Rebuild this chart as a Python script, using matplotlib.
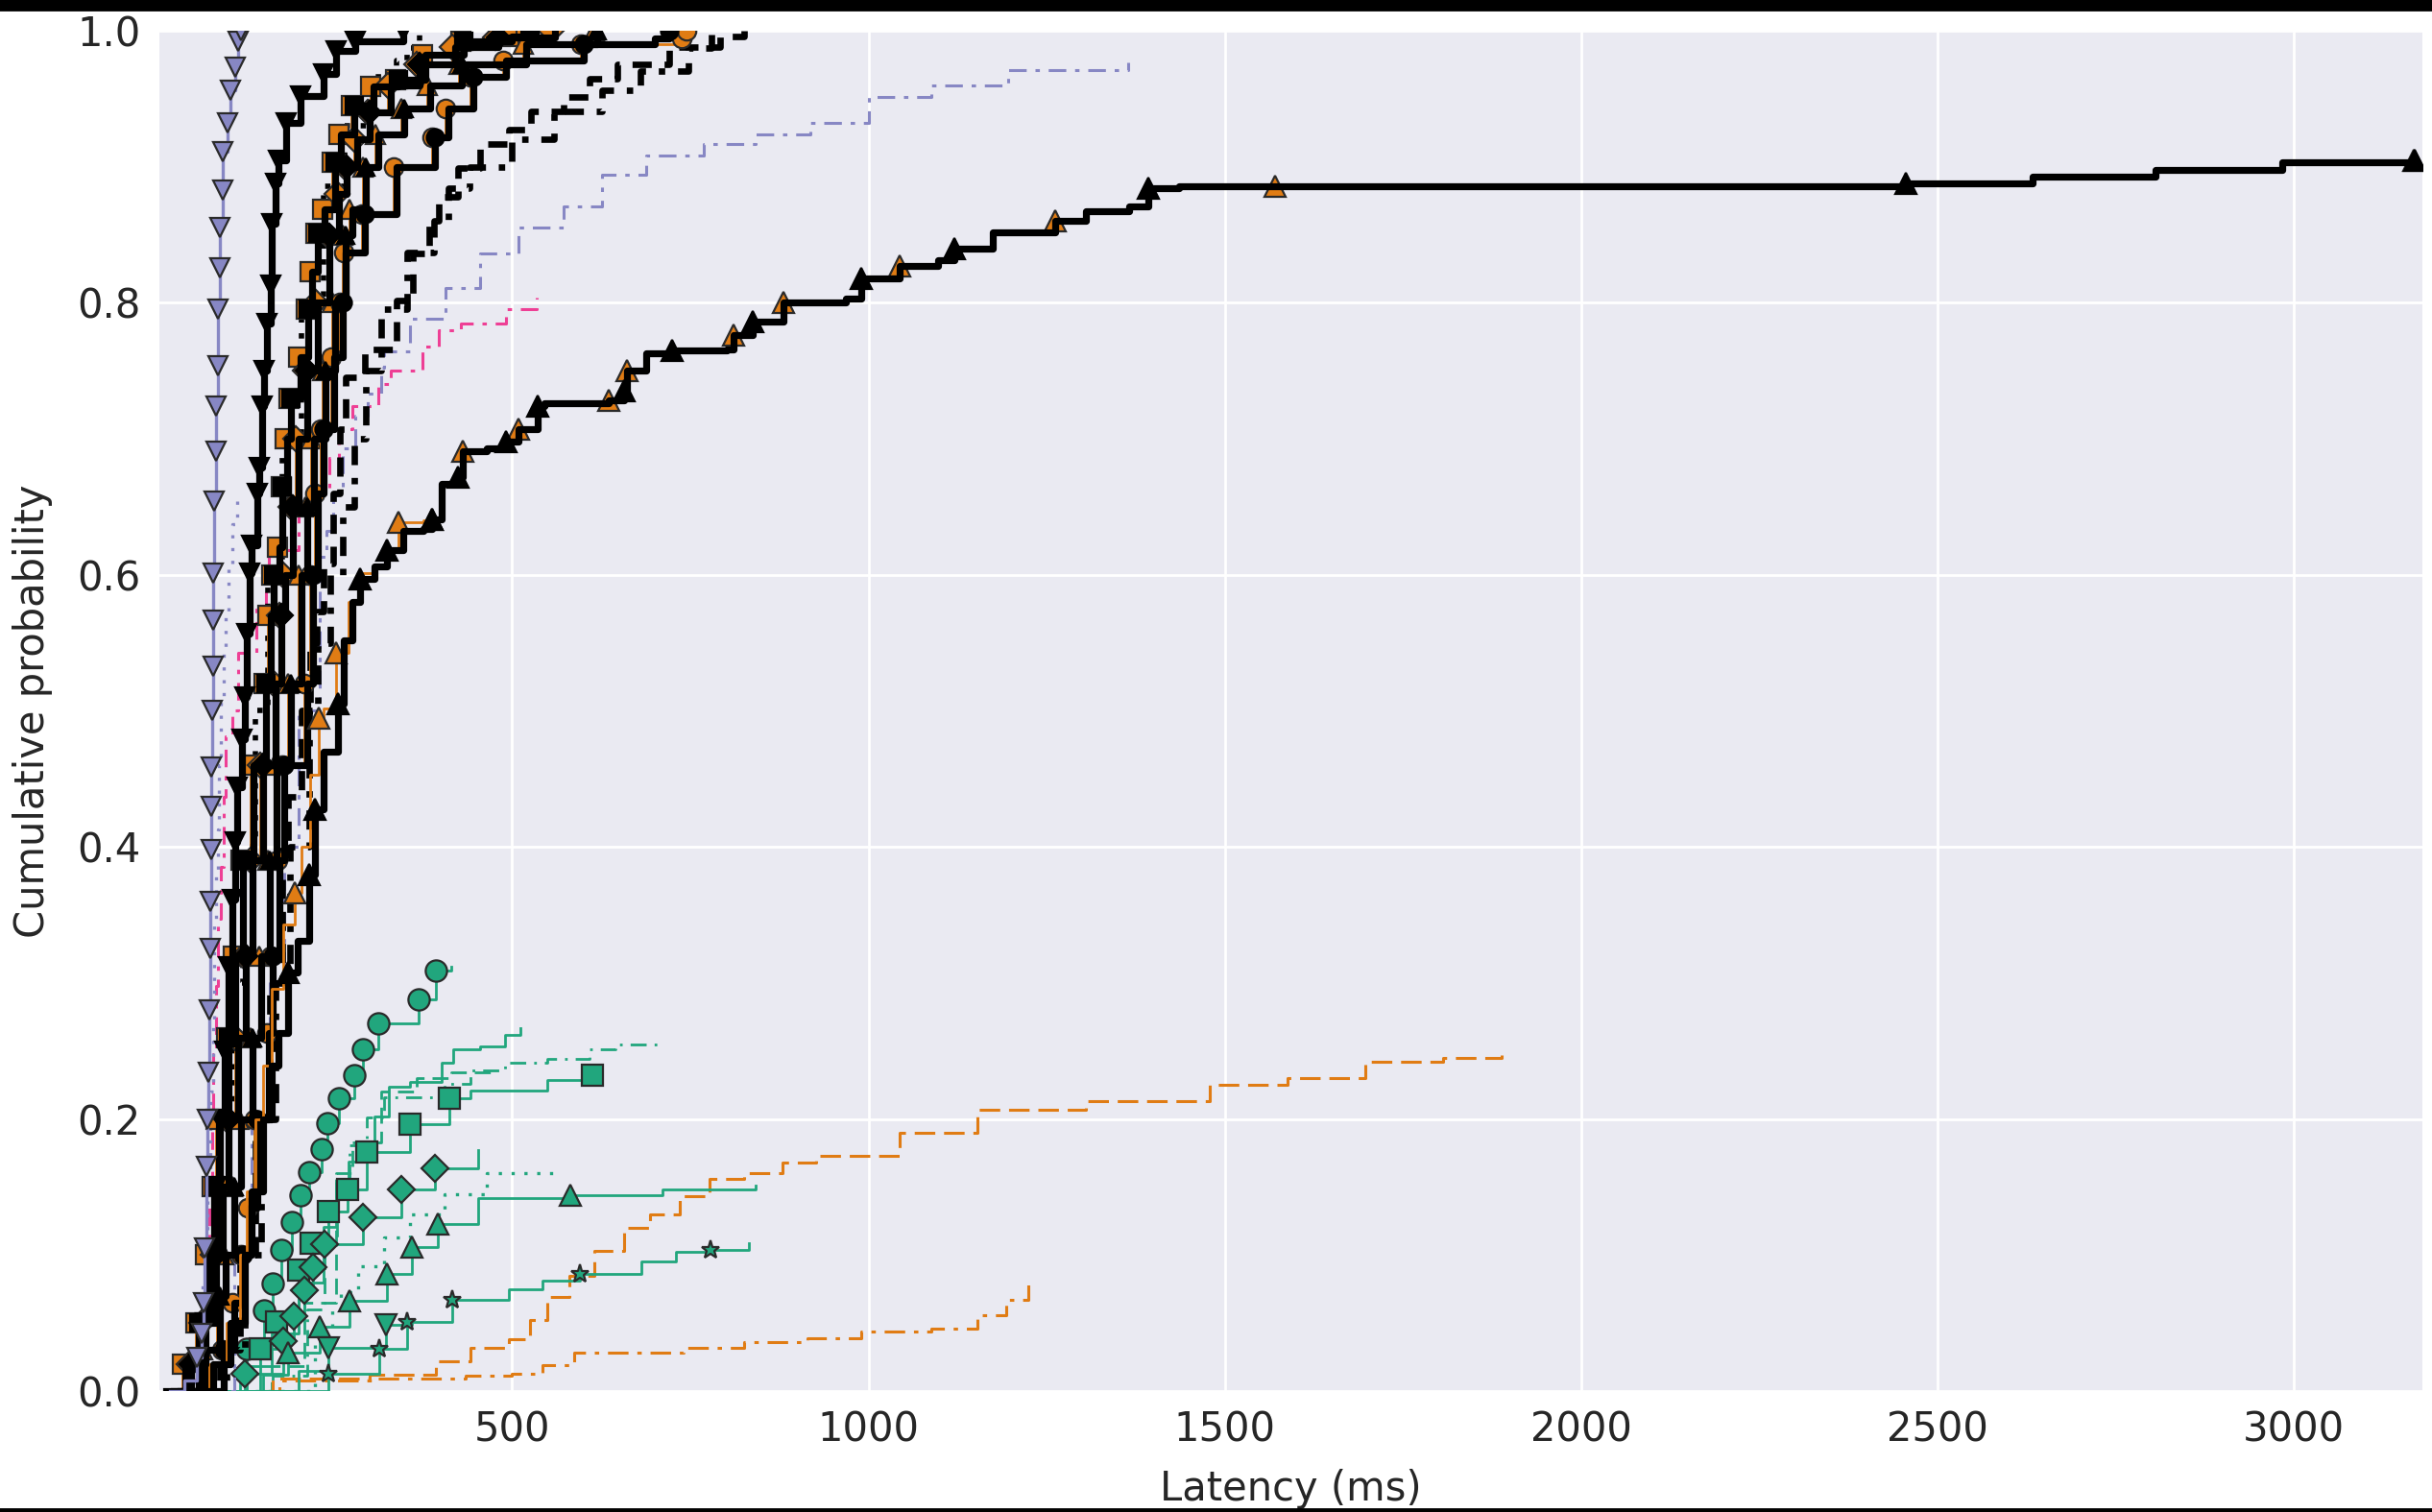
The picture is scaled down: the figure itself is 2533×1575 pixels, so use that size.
import matplotlib
matplotlib.use('Agg')
import matplotlib.pyplot as plt
from matplotlib.patches import Rectangle

# colours
purple = '#8787c4'
pink = '#ee3f95'
green = '#21a67d'
orange = '#e07c14'
black = '#000000'

# --- purple / pink series ---
purple_v_lat = [20, 40, 58, 64.7, 67, 69, 71.4, 72.5, 73.7, 75, 77, 77, 77.5, 78, 78.5, 79.5, 80.4, 80.4, 80.4,
                82, 84, 85, 87, 87, 90, 90, 94, 94, 100.6, 105, 112, 116, 120]
purple_v_cdf = [0.0, 0.008, 0.025, 0.042, 0.065, 0.105, 0.165, 0.2, 0.234, 0.28, 0.325, 0.36, 0.398, 0.43, 0.459,
                0.5, 0.533, 0.567, 0.601, 0.654, 0.691, 0.724, 0.754, 0.795, 0.826, 0.855, 0.883, 0.911, 0.932,
                0.956, 0.973, 0.992, 1.0]

purple_dot_lat = [30, 55, 66, 72, 76, 80, 82, 85, 87, 89, 91.6, 95.7, 98.4, 102.4, 107, 114]
purple_dot_cdf = [0.0, 0.03, 0.08, 0.15, 0.22, 0.272, 0.343, 0.38, 0.413, 0.46, 0.51, 0.543, 0.571, 0.604, 0.637, 0.658]

purple_dd_lat = [50, 110, 135, 160, 180, 200, 230.6, 240, 249, 262, 280, 298, 316, 321, 356.7, 406, 455.5, 509,
                 572, 626, 688.6, 769.5, 841.7, 918, 1000, 1088, 1196, 1364]
purple_dd_cdf = [0.0, 0.1, 0.2, 0.3, 0.4, 0.5, 0.613, 0.632, 0.66, 0.693, 0.717, 0.733, 0.752, 0.764, 0.788, 0.811,
                 0.836, 0.855, 0.871, 0.894, 0.908, 0.917, 0.924, 0.932, 0.951, 0.96, 0.971, 0.977]

pink_dd_lat = [30, 55, 70, 75.5, 79, 80.4, 85, 87, 91.6, 95.7, 98.4, 107, 116, 141, 154.5, 159, 200, 244, 257.5,
               276, 311.6, 330, 374.6, 397, 428.5, 491, 534]
pink_dd_cdf = [0.0, 0.03, 0.08, 0.14, 0.2, 0.248, 0.298, 0.347, 0.385, 0.437, 0.481, 0.5, 0.543, 0.576, 0.604,
               0.618, 0.66, 0.686, 0.707, 0.724, 0.74, 0.75, 0.768, 0.78, 0.785, 0.795, 0.804]

# --- black, no markers ---
black_dash_lat = [60, 90, 118, 140, 160, 178, 186, 205, 217, 226, 235, 249, 258, 267, 294, 338, 361, 383.6, 397,
                  424, 455.5, 496, 527, 572, 608, 648, 720, 792, 825]
black_dash_cdf = [0.0, 0.03, 0.1, 0.2, 0.3, 0.4, 0.437, 0.5, 0.55, 0.573, 0.608, 0.66, 0.707, 0.745, 0.766, 0.802,
                  0.836, 0.86, 0.878, 0.899, 0.917, 0.927, 0.941, 0.951, 0.965, 0.975, 0.988, 0.996, 1.0]

black_dd_lat = [70, 100, 125, 148, 168, 188, 215, 228, 245, 262, 278, 295, 316, 352, 390, 410, 440, 500, 559,
                626, 680, 747, 780]
black_dd_cdf = [0.0, 0.03, 0.1, 0.2, 0.3, 0.4, 0.5, 0.55, 0.6, 0.65, 0.7, 0.75, 0.795, 0.837, 0.86, 0.884, 0.9,
                0.92, 0.941, 0.956, 0.97, 0.987, 1.0]

black_dot_lat = [20, 60, 75, 90, 108, 122, 140, 158, 178, 205, 235, 265, 303, 338, 352, 370]
black_dot_cdf = [0.0, 0.05, 0.1, 0.2, 0.3, 0.4, 0.5, 0.6, 0.7, 0.8, 0.886, 0.93, 0.966, 0.978, 0.987, 1.0]

black_v_lat = [40, 60, 70, 78, 84, 90, 97, 102.4, 107.4, 112, 114, 121, 125.3, 127.6, 132, 134.3, 143, 145.5,
               149.6, 152, 156.5, 161, 163, 168, 172.5, 183.6, 203.5, 235, 253, 280, 347.6]
black_v_cdf = [0.0, 0.02, 0.05, 0.1, 0.15, 0.2, 0.25, 0.312, 0.361, 0.404, 0.444, 0.479, 0.51, 0.557, 0.601,
               0.622, 0.66, 0.679, 0.724, 0.75, 0.785, 0.813, 0.858, 0.888, 0.905, 0.932, 0.952, 0.968, 0.985,
               0.992, 1.0]

# --- cluster: black thick + orange thin per marker ---
sq_cdf = [0.0, 0.02, 0.05, 0.1, 0.15, 0.2, 0.26, 0.32, 0.39, 0.46, 0.52, 0.57, 0.6, 0.62, 0.665, 0.7, 0.73, 0.76,
          0.795, 0.823, 0.851, 0.869, 0.903, 0.924, 0.945, 0.959, 0.964, 0.982, 0.992, 0.996, 1.0]
sq_black_lat = [15, 42, 60, 74, 82, 88, 102, 112, 122, 137, 155, 161, 166, 174, 178, 184, 190, 203, 214, 219,
                228, 237, 251, 260, 279, 306, 340, 378, 432, 500, 525]
sq_orange_lat = [12, 38, 56, 70, 79, 85, 99, 109, 119, 133, 152, 158, 163, 171, 176, 181, 187, 200, 211, 216,
                 225, 234, 248, 257, 275, 302, 336, 374, 428, 495, 520]

dm_cdf = [0.0, 0.02, 0.05, 0.1, 0.15, 0.2, 0.26, 0.32, 0.39, 0.46, 0.52, 0.57, 0.6, 0.65, 0.7, 0.75, 0.8, 0.85,
          0.88, 0.9, 0.92, 0.94, 0.96, 0.975, 0.988, 0.995, 1.0]
dm_black_lat = [25, 50, 68, 84, 94, 102, 115, 126, 136, 150, 168, 176, 182, 192, 200, 213, 228, 244, 257, 268,
                282, 300, 330, 370, 420, 480, 560]
dm_orange_lat = [22, 47, 65, 80, 91, 99, 112, 123, 133, 147, 165, 173, 179, 189, 197, 210, 225, 241, 254, 265,
                 279, 297, 326, 366, 416, 476, 555]

tr_cdf = [0.0, 0.03, 0.07, 0.1, 0.15, 0.2, 0.26, 0.32, 0.39, 0.46, 0.52, 0.6, 0.65, 0.7, 0.75, 0.8, 0.85, 0.869,
          0.9, 0.924, 0.943, 0.96, 0.975, 0.99, 1.0]
tr_black_lat = [35, 70, 90, 98, 110, 120, 136, 148, 160, 170, 190, 205, 213, 222, 238, 252, 266, 276, 295, 312,
                348, 385, 430, 520, 620]
tr_orange_lat = [32, 66, 86, 95, 107, 117, 133, 145, 157, 167, 186, 201, 210, 218, 234, 248, 262, 272, 291, 308,
                 344, 381, 426, 515, 615]

ci_cdf = [0.0, 0.03, 0.065, 0.1, 0.135, 0.2, 0.263, 0.32, 0.39, 0.46, 0.52, 0.6, 0.66, 0.707, 0.76, 0.8, 0.837,
          0.865, 0.9, 0.922, 0.943, 0.966, 0.978, 0.99, 0.994, 1.0]
ci_black_lat = [50, 96, 110, 122, 132, 142, 159, 164, 174, 180, 213, 220, 228, 235, 250, 262, 267, 294, 338, 392,
                410, 446, 491, 600, 700, 720]
ci_orange_lat = [47, 93, 107, 119, 129, 139, 156, 161, 171, 177, 209, 216, 224, 231, 246, 258, 264, 290, 334, 388,
                 406, 442, 487, 596, 738, 745]

# --- long tail (triangles) ---
tail_black_lat = [50, 80, 105, 125, 135, 150, 163, 172.5, 186, 199.4, 215, 224, 235, 255.6, 264, 276, 287, 307.5,
                  325, 347.6, 375, 388, 401.6, 424, 430.8, 464, 491.5, 509.4, 536.3, 545, 635, 657.6, 661.7,
                  688.6, 725, 801.3, 810, 837, 881, 968, 990, 1044, 1098, 1120, 1174, 1262, 1305, 1366, 1392,
                  1436, 2455, 2633, 2806, 2983, 3170]
tail_black_cdf = [0.0, 0.02, 0.05, 0.1, 0.147, 0.2, 0.239, 0.263, 0.308, 0.331, 0.38, 0.428, 0.47, 0.505, 0.552,
                  0.58, 0.597, 0.606, 0.618, 0.632, 0.634, 0.641, 0.667, 0.672, 0.691, 0.693, 0.698, 0.707, 0.724,
                  0.726, 0.728, 0.735, 0.75, 0.763, 0.765, 0.766, 0.776, 0.786, 0.80, 0.803, 0.818, 0.827, 0.831,
                  0.84, 0.852, 0.86, 0.867, 0.871, 0.884, 0.886, 0.888, 0.893, 0.898, 0.903, 0.905]
tail_orange_lat = [45, 75, 100, 118, 128, 140, 150, 163, 179, 195, 205, 217, 228.6, 235, 253, 270, 287, 307.5,
                   325, 340, 375, 388, 401.6, 424, 430.8, 464, 491.5, 509.4, 536.3, 545, 635, 657.6, 661.7,
                   688.6, 725, 801.3, 810, 837, 881, 968, 990, 1044, 1098, 1120, 1174, 1262, 1305, 1366, 1392,
                   1436, 1570, 2455, 2633, 2806, 2983, 3168]
tail_orange_cdf = [0.0, 0.02, 0.05, 0.1, 0.147, 0.2, 0.239, 0.296, 0.343, 0.366, 0.4, 0.453, 0.495, 0.502, 0.543,
                   0.58, 0.601, 0.606, 0.618, 0.639, 0.64, 0.641, 0.667, 0.672, 0.691, 0.693, 0.698, 0.707, 0.724,
                   0.726, 0.728, 0.735, 0.75, 0.763, 0.765, 0.766, 0.776, 0.786, 0.80, 0.803, 0.818, 0.827, 0.831,
                   0.84, 0.852, 0.86, 0.867, 0.871, 0.884, 0.886, 0.886, 0.888, 0.893, 0.898, 0.903, 0.905]

# --- orange, no markers ---
orange_dash_lat = [150, 164.4, 300, 393, 441, 495, 525, 549.2, 580, 615.5, 657.6, 693.7, 735.7, 777.5, 826, 880,
                   927, 1044, 1153, 1305, 1479, 1588, 1697, 1806, 1889]
orange_dash_cdf = [0.0, 0.009, 0.012, 0.022, 0.032, 0.038, 0.052, 0.069, 0.085, 0.103, 0.12, 0.13, 0.143, 0.156,
                   0.16, 0.168, 0.173, 0.19, 0.207, 0.213, 0.225, 0.23, 0.242, 0.245, 0.247]

orange_dd_lat = [150, 174, 304, 435, 500, 543, 587, 740, 826, 914, 990, 1088, 1153, 1193, 1224]
orange_dd_cdf = [0.0, 0.008, 0.009, 0.011, 0.013, 0.019, 0.028, 0.032, 0.036, 0.039, 0.044, 0.046, 0.056, 0.067,
                 0.084]

# --- green ---
green_o_lat = [100, 128, 152, 164, 176, 191, 203, 215.5, 233, 241, 257, 279, 290.6, 311.7, 368.8, 393, 414]
green_o_cdf = [0.0, 0.031, 0.059, 0.079, 0.104, 0.124, 0.144, 0.161, 0.178, 0.197, 0.215, 0.232, 0.251, 0.27,
               0.288, 0.309, 0.312]

green_s_lat = [110, 146, 170, 200, 218, 242.5, 269.5, 296.5, 357, 412, 441, 549, 612.5]
green_s_cdf = [0.0, 0.031, 0.051, 0.089, 0.109, 0.132, 0.148, 0.176, 0.196, 0.215, 0.221, 0.229, 0.232]

green_d_lat = [100, 125.3, 179, 194, 209, 221, 236.5, 290.6, 345, 391.7, 453]
green_d_cdf = [0.0, 0.013, 0.037, 0.055, 0.074, 0.091, 0.108, 0.128, 0.148, 0.164, 0.177]

green_t_lat = [110, 150, 185, 230.5, 272.5, 324.6, 359.8, 396, 453, 582, 711.5, 841]
green_t_cdf = [0.0, 0.012, 0.028, 0.047, 0.066, 0.086, 0.106, 0.123, 0.142, 0.144, 0.148, 0.151]

green_v_lat = [120, 200, 242, 323, 360]
green_v_cdf = [0.0, 0.015, 0.032, 0.049, 0.052]

green_star_lat = [130, 242.5, 313.4, 352, 415.7, 495, 543, 594.5, 682, 730, 779, 832]
green_star_cdf = [0.0, 0.013, 0.031, 0.051, 0.067, 0.075, 0.081, 0.086, 0.095, 0.102, 0.104, 0.109]

green_solid_lat = [100, 118.6, 163, 200, 235, 253, 271, 307.5, 327, 356.7, 401.6, 417, 455.5, 490, 512]
green_solid_cdf = [0.0, 0.018, 0.042, 0.08, 0.121, 0.155, 0.169, 0.202, 0.224, 0.227, 0.241, 0.251, 0.253,
                   0.262, 0.267]

green_dd_lat = [130, 164, 212, 236.5, 255, 272, 296.5, 321, 405, 441, 489.4, 549, 609, 645.5, 706]
green_dd_cdf = [0.0, 0.011, 0.06, 0.11, 0.148, 0.181, 0.201, 0.216, 0.226, 0.236, 0.241, 0.244, 0.251, 0.255,
                0.257]

green_dash_lat = [120, 163, 208.5, 253, 276, 316, 365.5, 415, 470]
green_dash_cdf = [0.0, 0.018, 0.065, 0.16, 0.183, 0.22, 0.23, 0.234, 0.24]

green_dot_lat = [140, 224, 248, 260, 284.6, 321, 357, 405, 465, 558]
green_dot_cdf = [0.0, 0.035, 0.06, 0.073, 0.092, 0.113, 0.13, 0.145, 0.16, 0.162]


plt.rcParams['font.size'] = 15
plt.rcParams['text.color'] = '#262626'
plt.rcParams['axes.labelcolor'] = '#262626'
plt.rcParams['xtick.color'] = '#262626'
plt.rcParams['ytick.color'] = '#262626'

fig = plt.figure(figsize=(12.665, 7.875), dpi=200)
ax = fig.add_axes([0.0655, 0.08, 0.9305, 0.8997])
ax.set_facecolor('#EAEAF2')
for s in ax.spines.values():
    s.set_visible(False)
ax.grid(True, color='white', lw=1.0)
ax.set_axisbelow(True)


def cdf_line(lat, cdf, color, lw, marker=None, ms=7, mfc=None, every=None, dashes=None, z=2):
    kw = dict(color=color, lw=lw, drawstyle='steps-post', zorder=z)
    if marker:
        kw.update(marker=marker, ms=ms, mfc=mfc or color,
                  mec='#000000' if color == black else '#2a2a2a', mew=0.8, markevery=every)
    line, = ax.plot(lat, cdf, **kw)
    if dashes:
        line.set_dashes(dashes)


# green
cdf_line(green_solid_lat, green_solid_cdf, green, 1.0, z=2)
cdf_line(green_dd_lat, green_dd_cdf, green, 1.0, dashes=(6, 3, 1, 3), z=2)
cdf_line(green_dash_lat, green_dash_cdf, green, 1.0, dashes=(6, 3), z=2)
cdf_line(green_dot_lat, green_dot_cdf, green, 1.2, dashes=(1, 3), z=2)
cdf_line(green_o_lat, green_o_cdf, green, 1.0, 'o', 8, every=slice(1, -1), z=3)
cdf_line(green_s_lat, green_s_cdf, green, 1.0, 's', 8, every=[1, 2, 3, 4, 5, 6, 7, 8, 9, 12], z=3)
cdf_line(green_d_lat, green_d_cdf, green, 1.0, 'D', 7, every=slice(1, -1), z=3)
cdf_line(green_t_lat, green_t_cdf, green, 1.0, '^', 8, every=[2, 3, 4, 5, 6, 7, 9], z=3)
cdf_line(green_v_lat, green_v_cdf, green, 1.0, 'v', 8, every=[2, 3], z=3)
cdf_line(green_star_lat, green_star_cdf, green, 1.0, '*', 7, every=[1, 2, 3, 4, 7, 10], z=3)

# orange lines without markers
cdf_line(orange_dash_lat, orange_dash_cdf, orange, 1.1, dashes=(7, 3), z=2)
cdf_line(orange_dd_lat, orange_dd_cdf, orange, 1.1, dashes=(7, 3, 1.5, 3), z=2)

# pink / purple thin
cdf_line(pink_dd_lat, pink_dd_cdf, pink, 1.1, dashes=(6, 3, 1.5, 3), z=3)
cdf_line(purple_dd_lat, purple_dd_cdf, purple, 1.1, dashes=(6, 3, 1.5, 3), z=3)
cdf_line(purple_dot_lat, purple_dot_cdf, purple, 1.2, dashes=(1, 3), z=3)

# black without markers
cdf_line(black_dash_lat, black_dash_cdf, black, 2.4, dashes=(3, 2), z=4)
cdf_line(black_dd_lat, black_dd_cdf, black, 2.4, dashes=(3, 2, 1, 2), z=4)
cdf_line(black_dot_lat, black_dot_cdf, black, 2.0, dashes=(1, 2), z=4)

# cluster: orange thin underneath, black thick on top with markers on every other point
cdf_line(sq_orange_lat, sq_cdf, orange, 1.0, 's', 7, every=slice(1, None), z=5)
cdf_line(dm_orange_lat, dm_cdf, orange, 1.0, 'D', 6.5, every=slice(1, None), z=5)
cdf_line(tr_orange_lat, tr_cdf, orange, 1.0, '^', 7, every=slice(1, None), z=5)
cdf_line(ci_orange_lat, ci_cdf, orange, 1.0, 'o', 7, every=slice(1, None), z=5)
cdf_line(sq_black_lat, sq_cdf, black, 2.6, 's', 6.5, every=slice(2, None, 2), z=6)
cdf_line(dm_black_lat, dm_cdf, black, 2.6, 'D', 6, every=slice(1, None, 2), z=6)
cdf_line(tr_black_lat, tr_cdf, black, 2.6, '^', 6.5, every=slice(2, None, 2), z=6)
cdf_line(ci_black_lat, ci_cdf, black, 2.6, 'o', 6.5, every=slice(1, None, 2), z=6)

# long tail
cdf_line(tail_orange_lat, tail_orange_cdf, orange, 1.0, '^', 8,
         every=[9, 12, 14, 19, 21, 24, 27, 30, 32, 36, 38, 41, 45, 50, 55], z=6)
cdf_line(tail_black_lat, tail_black_cdf, black, 2.6, '^', 8,
         every=[8, 10, 11, 13, 16, 18, 21, 23, 26, 28, 31, 34, 37, 40, 43, 48, 50, 54], z=7)

# black v and purple v
cdf_line(black_v_lat, black_v_cdf, black, 2.6, 'v', 7, every=slice(1, None), z=7)
cdf_line(purple_v_lat, purple_v_cdf, purple, 1.2, 'v', 7, every=slice(2, None), z=8)

ax.set_xlim(5, 3180)
ax.set_ylim(0, 1.0)
ax.set_xticks([500, 1000, 1500, 2000, 2500, 3000])
ax.set_yticks([0.0, 0.2, 0.4, 0.6, 0.8, 1.0])
ax.set_yticklabels(['0.0', '0.2', '0.4', '0.6', '0.8', '1.0'])
ax.tick_params(length=0, pad=7)
ax.set_xlabel('Latency (ms)', labelpad=7)
ax.set_ylabel('Cumulative probability', labelpad=9)

# black frame bits seen on the picture
fig.add_artist(Rectangle((0, 1 - 10 / 1575), 1, 10 / 1575, transform=fig.transFigure, color='black', zorder=10))
fig.add_artist(Rectangle((0, 0), 1, 3 / 1575, transform=fig.transFigure, color='black', zorder=10))

fig.savefig('out.png', dpi=200)
print('Saved chart as out.png')
